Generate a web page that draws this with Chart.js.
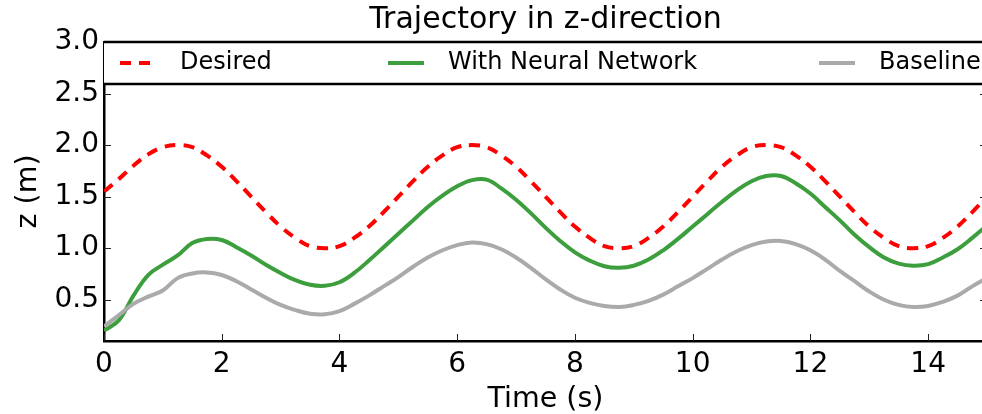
<!DOCTYPE html>
<html>
<head>
<meta charset="utf-8">
<script src="https://cdn.jsdelivr.net/npm/chart.js@4/dist/chart.umd.min.js"></script>
<style>
  body { margin: 0; overflow: hidden; background: #fff; }
  canvas { display: block; }
</style>
</head>
<body>
<canvas id="chart" width="990" height="414"></canvas>
<script>
// time samples (s)
const times = [0, 0.25, 0.5, 0.75, 1, 1.25, 1.5, 1.75, 2, 2.25, 2.5, 2.75, 3, 3.25, 3.5, 3.75,
  4, 4.25, 4.5, 4.75, 5, 5.25, 5.5, 5.75, 6, 6.25, 6.5, 6.75, 7, 7.25, 7.5, 7.75,
  8, 8.25, 8.5, 8.75, 9, 9.25, 9.5, 9.75, 10, 10.25, 10.5, 10.75, 11, 11.25, 11.5, 11.75,
  12, 12.25, 12.5, 12.75, 13, 13.25, 13.5, 13.75, 14, 14.25, 14.5, 14.75, 15];

const desired = [1.55, 1.67, 1.80, 1.91, 1.98, 2.00, 1.98, 1.90, 1.79, 1.65, 1.50, 1.35, 1.21, 1.10, 1.02, 1.00,
  1.02, 1.10, 1.21, 1.35, 1.50, 1.65, 1.79, 1.90, 1.98, 2.00, 1.98, 1.90, 1.79, 1.65, 1.50, 1.35,
  1.21, 1.10, 1.02, 1.00, 1.02, 1.10, 1.21, 1.35, 1.50, 1.65, 1.79, 1.90, 1.98, 2.00, 1.98, 1.90,
  1.79, 1.65, 1.50, 1.35, 1.21, 1.10, 1.02, 1.00, 1.02, 1.10, 1.21, 1.35, 1.50];

const withNN = [0.20, 0.30, 0.54, 0.74, 0.84, 0.93, 1.05, 1.09, 1.08, 1.01, 0.93, 0.84, 0.76, 0.69, 0.645, 0.635,
  0.67, 0.76, 0.88, 1.01, 1.14, 1.27, 1.40, 1.51, 1.60, 1.66, 1.665, 1.58, 1.47, 1.34, 1.20, 1.07,
  0.96, 0.88, 0.825, 0.81, 0.83, 0.89, 0.98, 1.09, 1.21, 1.33, 1.45, 1.56, 1.65, 1.70, 1.70, 1.63,
  1.53, 1.40, 1.27, 1.13, 1.01, 0.91, 0.85, 0.83, 0.845, 0.91, 0.99, 1.10, 1.22];

const baseline = [0.24, 0.35, 0.46, 0.53, 0.59, 0.71, 0.755, 0.765, 0.74, 0.68, 0.60, 0.52, 0.45, 0.40, 0.365, 0.36,
  0.39, 0.46, 0.54, 0.63, 0.72, 0.82, 0.91, 0.98, 1.03, 1.055, 1.04, 0.99, 0.91, 0.81, 0.70, 0.60,
  0.52, 0.47, 0.44, 0.43, 0.45, 0.49, 0.55, 0.63, 0.71, 0.80, 0.89, 0.97, 1.03, 1.065, 1.07, 1.04,
  0.98, 0.89, 0.78, 0.68, 0.58, 0.50, 0.45, 0.43, 0.44, 0.48, 0.54, 0.63, 0.71];

const xTicks = [0, 2, 4, 6, 8, 10, 12, 14];
const yTicks = [0.5, 1.0, 1.5, 2.0, 2.5, 3.0];

const FONT = "'DejaVu Sans', sans-serif";

function pts(ys) {
  return ys.map((y, i) => ({ x: times[i], y: y }));
}

// inward tick marks, legend box and top spine, like the original plot
const framePlugin = {
  id: 'frame',
  afterDatasetsDraw(chart) {
    const ctx = chart.ctx;
    const a = chart.chartArea;
    const xs = chart.scales.x, ys = chart.scales.y;
    ctx.save();
    ctx.strokeStyle = '#222';
    ctx.lineWidth = 1;
    ctx.beginPath();
    xTicks.forEach(v => {
      const px = Math.round(xs.getPixelForValue(v)) + 0.5;
      ctx.moveTo(px, a.bottom);
      ctx.lineTo(px, a.bottom - 7);
    });
    yTicks.forEach(v => {
      const py = Math.round(ys.getPixelForValue(v)) + 0.5;
      ctx.moveTo(a.left, py);
      ctx.lineTo(a.left + 7, py);
      ctx.moveTo(a.right, py);
      ctx.lineTo(a.right - 7, py);
    });
    ctx.stroke();

    // legend box
    const top = a.top, bot = a.top + 42;
    ctx.fillStyle = '#fff';
    ctx.fillRect(a.left, top, a.right - a.left, bot - top);
    ctx.strokeStyle = '#000';
    ctx.lineWidth = 2.5;
    ctx.beginPath();
    ctx.moveTo(a.left, top);
    ctx.lineTo(a.right, top);
    ctx.moveTo(a.left, bot);
    ctx.lineTo(a.right, bot);
    ctx.stroke();

    const itemX = [16, 284, 715];
    const midY = (top + bot) / 2;
    ctx.font = '24px ' + FONT;
    ctx.textBaseline = 'middle';
    chart.data.datasets.forEach((ds, i) => {
      const x0 = a.left + itemX[i];
      ctx.strokeStyle = ds.borderColor;
      ctx.lineWidth = ds.borderWidth;
      ctx.setLineDash(ds.borderDash || []);
      ctx.beginPath();
      ctx.moveTo(x0, midY);
      ctx.lineTo(x0 + 36, midY);
      ctx.stroke();
      ctx.setLineDash([]);
      ctx.fillStyle = '#000';
      ctx.fillText(ds.label, x0 + 60, midY);
    });
    ctx.restore();
  }
};

new Chart(document.getElementById('chart'), {
  type: 'line',
  data: {
    datasets: [
      { label: 'Desired', data: pts(desired), borderColor: '#ff0000', borderWidth: 4,
        borderDash: [11, 8], pointRadius: 0, tension: 0.4, order: 2 },
      { label: 'With Neural Network', data: pts(withNN), borderColor: '#3c9e3c', borderWidth: 4,
        pointRadius: 0, tension: 0.4, order: 1 },
      { label: 'Baseline', data: pts(baseline), borderColor: '#aaaaaa', borderWidth: 4,
        pointRadius: 0, tension: 0.4, order: 0 }
    ]
  },
  options: {
    responsive: false,
    animation: false,
    layout: { padding: { left: 0, right: 3, top: 0, bottom: 0 } },
    plugins: {
      legend: { display: false },
      tooltip: { enabled: false },
      title: {
        display: true,
        fullSize: false,
        text: 'Trajectory in z-direction',
        color: '#000',
        font: { family: FONT, size: 30, weight: 'normal' },
        padding: { top: 2, bottom: 4 }
      }
    },
    scales: {
      x: {
        type: 'linear',
        min: 0, max: 15,
        afterBuildTicks: s => { s.ticks = xTicks.map(v => ({ value: v })); },
        afterFit: s => { s.height = 73; },
        grid: { display: false, drawTicks: false },
        border: { display: true, color: '#000', width: 2.5 },
        ticks: { color: '#000', padding: 7, maxRotation: 0, font: { family: FONT, size: 28 } },
        title: { display: true, text: 'Time (s)', color: '#000',
          font: { family: FONT, size: 28.5 }, padding: { top: 0, bottom: -3 } }
      },
      y: {
        min: 0.1, max: 3.0,
        afterBuildTicks: s => { s.ticks = yTicks.map(v => ({ value: v })); },
        afterFit: s => { s.width = 104; },
        grid: { display: false, drawTicks: false },
        border: { display: true, color: '#000', width: 2.5 },
        ticks: { color: '#000', padding: 5, font: { family: FONT, size: 28 },
          callback: v => v.toFixed(1) },
        title: { display: true, text: 'z (m)', color: '#000',
          font: { family: FONT, size: 28.5 }, padding: { top: 11, bottom: 0 } }
      }
    }
  },
  plugins: [framePlugin]
});
</script>
</body>
</html>
